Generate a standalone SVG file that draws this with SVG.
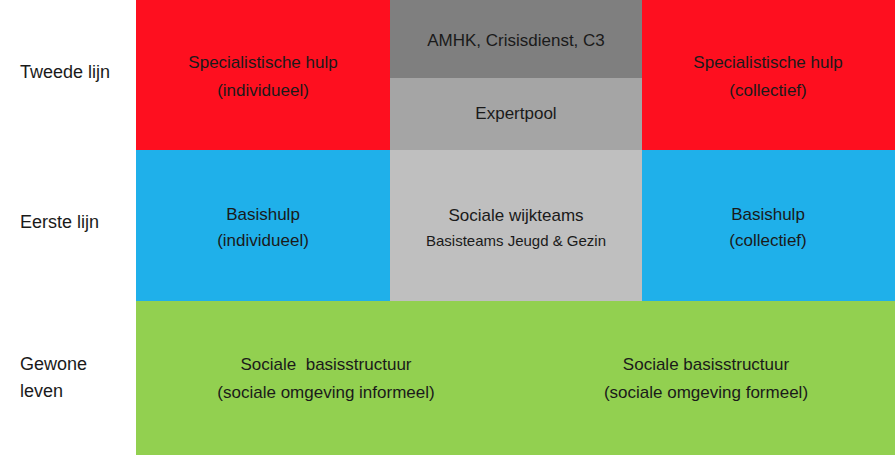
<svg xmlns="http://www.w3.org/2000/svg" width="895" height="455" viewBox="0 0 895 455">
<style>
text{font-family:"Liberation Sans",Arial,sans-serif;font-size:17px;fill:#1a1a1a;text-anchor:middle}
.l{text-anchor:start;font-size:18px}
.s{font-size:15px}
</style>
<rect width="895" height="455" fill="#fff"/>
<g id="labels">
<text class="l" x="20" y="78">Tweede lijn</text>
<text class="l" x="20" y="228">Eerste lijn</text>
<text class="l" x="20" y="370">Gewone</text>
<text class="l" x="20" y="397">leven</text>
</g>
<g id="spec-ind"><rect x="136" y="0" width="254" height="150" fill="#FE0F1F"/>
<text x="263" y="68">Specialistische hulp</text><text x="263" y="96">(individueel)</text></g>
<g id="amhk"><rect x="390" y="0" width="252" height="78" fill="#7F7F7F"/>
<text x="516" y="46">AMHK, Crisisdienst, C3</text></g>
<g id="expertpool"><rect x="390" y="78" width="252" height="72" fill="#A5A5A5"/>
<text x="516" y="119">Expertpool</text></g>
<g id="spec-col"><rect x="642" y="0" width="253" height="150" fill="#FE0F1F"/>
<text x="768" y="68">Specialistische hulp</text><text x="768" y="96">(collectief)</text></g>
<g id="basis-ind"><rect x="136" y="150" width="254" height="151" fill="#1FB0EA"/>
<text x="263" y="220">Basishulp</text><text x="263" y="246">(individueel)</text></g>
<g id="wijkteams"><rect x="390" y="150" width="252" height="151" fill="#BFBFBF"/>
<text x="516" y="221">Sociale wijkteams</text><text class="s" x="516" y="246">Basisteams Jeugd &amp; Gezin</text></g>
<g id="basis-col"><rect x="642" y="150" width="253" height="151" fill="#1FB0EA"/>
<text x="768" y="220">Basishulp</text><text x="768" y="246">(collectief)</text></g>
<g id="gewoon"><rect x="136" y="301" width="759" height="154" fill="#92D050"/>
<text x="326" y="370" xml:space="preserve">Sociale  basisstructuur</text><text x="326" y="398">(sociale omgeving informeel)</text>
<text x="706" y="370">Sociale basisstructuur</text><text x="706" y="398">(sociale omgeving formeel)</text></g>
<g id="connectors"/>
</svg>
